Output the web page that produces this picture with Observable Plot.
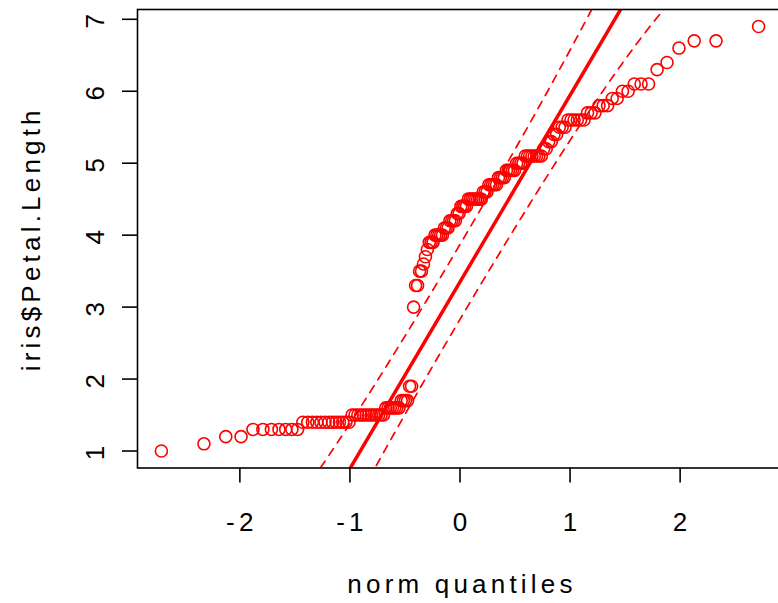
<!DOCTYPE html>
<html><head><meta charset="utf-8">
<script src="https://cdn.jsdelivr.net/npm/d3@7"></script>
<script src="https://cdn.jsdelivr.net/npm/@observablehq/plot@0.6"></script>
<style>body{margin:0;background:#fff} svg{display:block}</style>
</head><body><div id="chart"></div>
<script>
// iris$Petal.Length (150 observations)
const petalLength = [
  1.4,1.4,1.3,1.5,1.4,1.7,1.4,1.5,1.4,1.5,1.5,1.6,1.4,1.1,1.2,1.5,1.3,1.4,1.7,1.5,1.7,1.5,1.0,1.7,1.9,1.6,1.6,1.5,1.4,1.6,1.6,1.5,1.5,1.4,1.5,1.2,1.3,1.4,1.3,1.5,1.3,1.3,1.3,1.6,1.9,1.4,1.6,1.4,1.5,1.4,
  4.7,4.5,4.9,4.0,4.6,4.5,4.7,3.3,4.6,3.9,3.5,4.2,4.0,4.7,3.6,4.4,4.5,4.1,4.5,3.9,4.8,4.0,4.9,4.7,4.3,4.4,4.8,5.0,4.5,3.5,3.8,3.7,3.9,5.1,4.5,4.5,4.7,4.4,4.1,4.0,4.4,4.6,4.0,3.3,4.2,4.2,4.2,4.3,3.0,4.1,
  6.0,5.1,5.9,5.6,5.8,6.6,4.5,6.3,5.8,6.1,5.1,5.3,5.5,5.0,5.1,5.3,5.5,6.7,6.9,5.0,5.7,4.9,6.7,4.9,5.7,6.0,4.8,4.9,5.6,5.8,6.1,6.4,5.6,5.1,5.6,6.1,5.6,5.5,4.8,5.4,5.6,5.1,5.1,5.9,5.7,5.2,5.0,5.2,5.4,5.1
];
const xTicks = [-2, -1, 0, 1, 2];
const yTicks = [1, 2, 3, 4, 5, 6, 7];
const xLabel = "norm quantiles";
const yLabel = "iris$Petal.Length";
const envelopeLevel = 0.95;

// inverse standard normal CDF (Acklam)
function qnorm(p) {
  const a = [-3.969683028665376e+01, 2.209460984245205e+02, -2.759285104469687e+02, 1.383577518672690e+02, -3.066479806614716e+01, 2.506628277459239e+00];
  const b = [-5.447609879822406e+01, 1.615858368580409e+02, -1.556989798598866e+02, 6.680131188771972e+01, -1.328068155288572e+01];
  const c = [-7.784894002430293e-03, -3.223964580411365e-01, -2.400758277161838e+00, -2.549732539343734e+00, 4.374664141464968e+00, 2.938163982698783e+00];
  const d = [7.784695709041462e-03, 3.224671290700398e-01, 2.445134137142996e+00, 3.754408661907416e+00];
  const pl = 0.02425, ph = 1 - pl;
  let q, r;
  if (p < pl) { q = Math.sqrt(-2 * Math.log(p)); return (((((c[0]*q+c[1])*q+c[2])*q+c[3])*q+c[4])*q+c[5]) / ((((d[0]*q+d[1])*q+d[2])*q+d[3])*q+1); }
  if (p > ph) { q = Math.sqrt(-2 * Math.log(1 - p)); return -(((((c[0]*q+c[1])*q+c[2])*q+c[3])*q+c[4])*q+c[5]) / ((((d[0]*q+d[1])*q+d[2])*q+d[3])*q+1); }
  q = p - 0.5; r = q * q;
  return (((((a[0]*r+a[1])*r+a[2])*r+a[3])*r+a[4])*r+a[5])*q / (((((b[0]*r+b[1])*r+b[2])*r+b[3])*r+b[4])*r+1);
}
const dnorm = z => Math.exp(-z * z / 2) / Math.sqrt(2 * Math.PI);

const sorted = petalLength.slice().sort((a, b) => a - b);
const n = sorted.length;
const qq = sorted.map((v, i) => { const P = (i + 0.5) / n; return {P, z: qnorm(P), v}; });
const q1 = d3.quantile(sorted, 0.25), q3 = d3.quantile(sorted, 0.75);
const slope = (q3 - q1) / (qnorm(0.75) - qnorm(0.25));
const intercept = q1 - slope * qnorm(0.25);
const zz = qnorm(1 - (1 - envelopeLevel) / 2);
const env = qq.map(d => {
  const fit = intercept + slope * d.z;
  const se = slope / dnorm(d.z) * Math.sqrt(d.P * (1 - d.P) / n);
  return {z: d.z, upper: fit + zz * se, lower: fit - zz * se};
});
const ext = (e) => { const r = e[1] - e[0]; return [e[0] - 0.04 * r, e[1] + 0.04 * r]; };
const xDom = ext(d3.extent(qq, d => d.z));
const yDom = ext(d3.extent(sorted));
const refLine = xDom.map(x => ({z: x, y: intercept + slope * x}));

const RED = "#ff0000";
const FS = 26;
const chart = Plot.plot({
  width: 778, height: 603,
  marginLeft: 137, marginTop: 9, marginBottom: 135.5, marginRight: -4,
  style: {fontFamily: "'Liberation Sans', Arial, sans-serif", fontSize: FS + "px", letterSpacing: "4.2px", color: "#000", background: "#fff"},
  x: {domain: xDom, axis: null},
  y: {domain: yDom, axis: null},
  marks: [
    Plot.line(env, {x: "z", y: "upper", stroke: RED, strokeWidth: 1.7, strokeDasharray: "8,7", clip: true}),
    Plot.line(env, {x: "z", y: "lower", stroke: RED, strokeWidth: 1.7, strokeDasharray: "8,7", clip: true}),
    Plot.line(refLine, {x: "z", y: "y", stroke: RED, strokeWidth: 3.5, clip: true}),
    Plot.dot(qq, {x: "z", y: "v", r: 6, stroke: RED, strokeWidth: 1.6, fill: "none"}),
    Plot.frame({stroke: "#000", strokeWidth: 1.6}),
    Plot.axisX({ticks: xTicks, tickSize: 15, tickFormat: () => "", label: null, strokeWidth: 1.6}),
    Plot.axisY({ticks: yTicks, tickSize: 15, tickFormat: () => "", label: null, strokeWidth: 1.6}),
    Plot.text(xTicks, {x: d => d, frameAnchor: "bottom", dy: 55, text: d => String(d), fontSize: FS, lineAnchor: "middle", textAnchor: "middle", dx: 2}),
    Plot.text(yTicks, {y: d => d, frameAnchor: "left", dx: -42, text: d => String(d), fontSize: FS, rotate: -90, lineAnchor: "middle", textAnchor: "middle"}),
    Plot.text([xLabel], {frameAnchor: "bottom", dy: 117, dx: 2, text: d => d, fontSize: FS, lineAnchor: "middle", textAnchor: "middle"}),
    Plot.text([yLabel], {frameAnchor: "left", dx: -106, text: d => d, fontSize: FS, rotate: -90, lineAnchor: "middle", textAnchor: "middle"})
  ]
});
document.getElementById("chart").appendChild(chart);
</script>
</body></html>
